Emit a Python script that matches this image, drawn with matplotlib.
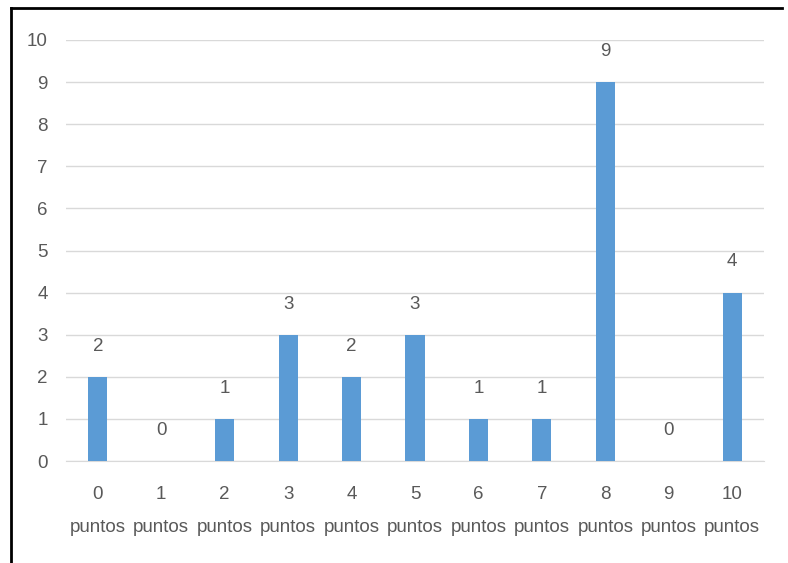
import matplotlib.pyplot as plt
import numpy as np

# puntos obtenidos -> número de alumnos
categorias = ['0\npuntos', '1\npuntos', '2\npuntos', '3\npuntos', '4\npuntos', '5\npuntos',
              '6\npuntos', '7\npuntos', '8\npuntos', '9\npuntos', '10\npuntos']
valores = [2, 0, 1, 3, 2, 3, 1, 1, 9, 0, 4]
yticks = list(range(0, 11))

plt.rcParams['font.family'] = ['Liberation Sans', 'DejaVu Sans']
texto = '#595959'
fs = 13.5
fig = plt.figure(figsize=(7.88, 5.63), dpi=100)
ax = fig.add_axes([0.0838, 0.181, 0.8857, 0.748])

x = np.arange(len(categorias))
ax.bar(x, valores, width=0.3, color='#5B9BD5', zorder=3)
for xi, v in zip(x, valores):
    ax.annotate(str(v), (xi, v), xytext=(0, 16), textcoords='offset points',
                ha='center', va='bottom', fontsize=fs, color=texto)

ax.set_xlim(-0.5, len(categorias) - 0.5)
ax.set_ylim(0, 10)
ax.set_yticks(yticks)
ax.set_xticks(x)
ax.set_xticklabels(categorias, fontsize=fs, color=texto, linespacing=2.2)
ax.tick_params(axis='y', labelsize=fs, labelcolor=texto, length=0, pad=13)
ax.tick_params(axis='x', length=0, pad=18)
ax.grid(axis='y', color='#D9D9D9', linewidth=1, zorder=0)
for s in ax.spines.values():
    s.set_visible(False)
ax.spines['bottom'].set_visible(True)
ax.spines['bottom'].set_color('#D9D9D9')

# marco negro de la captura
fig.add_artist(plt.Line2D([11 / 788, 11 / 788], [0, 1 - 8 / 563], color='black', lw=2))
fig.add_artist(plt.Line2D([11 / 788, 782 / 788], [1 - 8 / 563, 1 - 8 / 563], color='black', lw=2))

fig.savefig('out.png', dpi=100)
